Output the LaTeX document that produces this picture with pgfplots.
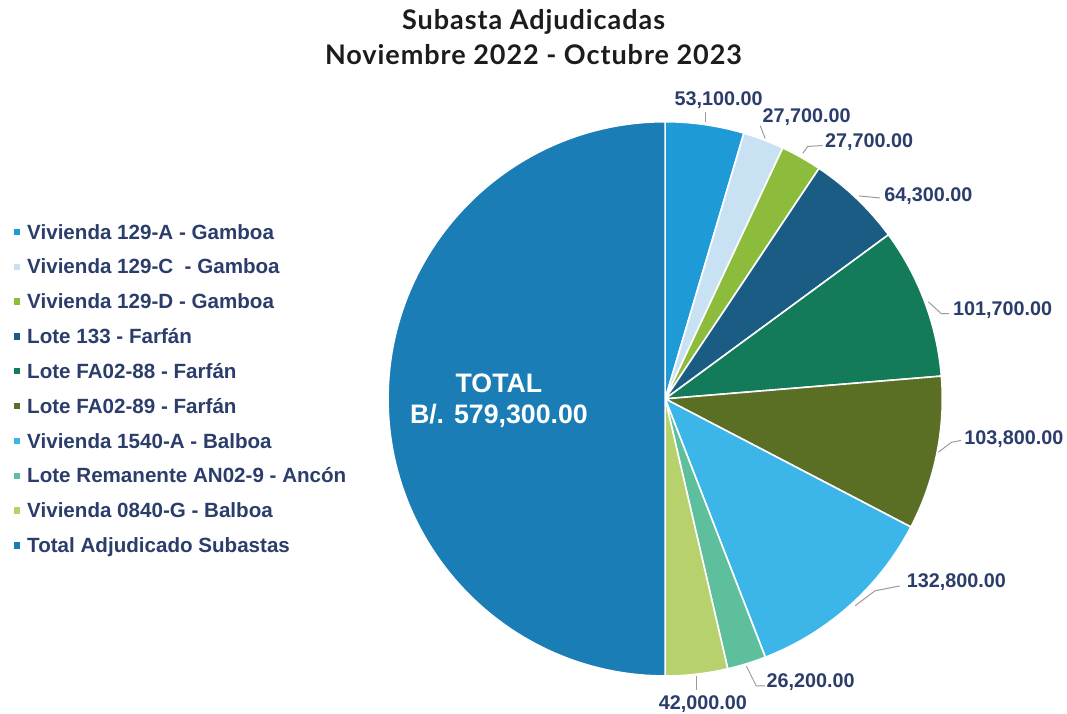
\documentclass[border=0pt]{standalone}
\usepackage{pgfplots}
\usepackage{pgfplotstable}
\pgfplotsset{compat=1.18}
\usepackage{fontspec}
\setmainfont{Liberation Sans}
\newfontfamily\arialfont{Liberation Sans}
\newfontfamily\titlefont{Lato}[LetterSpace=3.5]

\definecolor{slice0}{HTML}{1E9AD6}
\definecolor{slice1}{HTML}{C8E2F3}
\definecolor{slice2}{HTML}{8DBC3C}
\definecolor{slice3}{HTML}{1B5C84}
\definecolor{slice4}{HTML}{137B59}
\definecolor{slice5}{HTML}{5B6F24}
\definecolor{slice6}{HTML}{3CB6E9}
\definecolor{slice7}{HTML}{5EBF9D}
\definecolor{slice8}{HTML}{B7D16C}
\definecolor{slice9}{HTML}{1B7DB6}
\definecolor{labtext}{HTML}{2B3D6B}
\definecolor{leader}{HTML}{9A9A9A}
\definecolor{titletext}{HTML}{1C1C1C}

% Subastas adjudicadas (B/.)
\pgfplotstableread{
value
53100
27700
27700
64300
101700
103800
132800
26200
42000
579300
}\piedata

\begin{document}
\xdef\pietotal{0}
\pgfplotsforeachungrouped \i in {0,...,9}{%
  \pgfplotstablegetelem{\i}{value}\of\piedata
  \xdef\pietotal{\fpeval{\pietotal+\pgfplotsretval}}%
}
\xdef\cur{90}
\pgfplotsforeachungrouped \i in {0,...,9}{%
  \pgfplotstablegetelem{\i}{value}\of\piedata
  \xdef\nxt{\fpeval{round(\cur-\pgfplotsretval*360/\pietotal,4)}}%
  \expandafter\xdef\csname pieS\i\endcsname{\cur}%
  \expandafter\xdef\csname pieE\i\endcsname{\nxt}%
  \xdef\cur{\nxt}%
}
\begin{tikzpicture}
\begin{axis}[
  name=ax, at={(0,0)}, anchor=origin,
  x=1pt, y=1pt,
  xmin=0, xmax=1067, ymin=0, ymax=721,
  hide axis, clip=false,
  legend style={at={(axis cs:3,494.5)}, anchor=north west, draw=none, fill=none,
    inner sep=0pt, outer sep=0pt, column sep=7.5pt, row sep=20.2pt,
    font=\arialfont\bfseries\fontsize{20.8}{24}\selectfont, text=labtext,
    nodes={inner sep=0pt, text height=15pt, text depth=0pt},
    cells={anchor=west}},
]
\pgfplotsinvokeforeach{0,...,9}{%
  \edef\temp{\noexpand\fill[fill=slice#1, draw=white, line width=1.6pt, line join=round]
    (axis cs:661,318) -- ++(\csname pieS#1\endcsname:280pt)
    arc[start angle=\csname pieS#1\endcsname, end angle=\csname pieE#1\endcsname, radius=280pt] -- cycle;}%
  \temp
}
% legend
\addlegendimage{legend image code/.code={\fill[slice0] (0pt,-2.75pt) rectangle (5.5pt,2.75pt);}}
\addlegendentry{Vivienda 129-A - Gamboa}
\addlegendimage{legend image code/.code={\fill[slice1] (0pt,-2.75pt) rectangle (5.5pt,2.75pt);}}
\addlegendentry{Vivienda 129-C \ - Gamboa}
\addlegendimage{legend image code/.code={\fill[slice2] (0pt,-2.75pt) rectangle (5.5pt,2.75pt);}}
\addlegendentry{Vivienda 129-D - Gamboa}
\addlegendimage{legend image code/.code={\fill[slice3] (0pt,-2.75pt) rectangle (5.5pt,2.75pt);}}
\addlegendentry{Lote 133 - Farfán}
\addlegendimage{legend image code/.code={\fill[slice4] (0pt,-2.75pt) rectangle (5.5pt,2.75pt);}}
\addlegendentry{Lote FA02-88 - Farfán}
\addlegendimage{legend image code/.code={\fill[slice5] (0pt,-2.75pt) rectangle (5.5pt,2.75pt);}}
\addlegendentry{Lote FA02-89 - Farfán}
\addlegendimage{legend image code/.code={\fill[slice6] (0pt,-2.75pt) rectangle (5.5pt,2.75pt);}}
\addlegendentry{Vivienda 1540-A - Balboa}
\addlegendimage{legend image code/.code={\fill[slice7] (0pt,-2.75pt) rectangle (5.5pt,2.75pt);}}
\addlegendentry{Lote Remanente AN02-9 - Ancón}
\addlegendimage{legend image code/.code={\fill[slice8] (0pt,-2.75pt) rectangle (5.5pt,2.75pt);}}
\addlegendentry{Vivienda 0840-G - Balboa}
\addlegendimage{legend image code/.code={\fill[slice9] (0pt,-2.75pt) rectangle (5.5pt,2.75pt);}}
\addlegendentry{Total Adjudicado Subastas}

% title
\node[anchor=base, font=\titlefont\bfseries\fontsize{27.3}{30}\selectfont, text=titletext] at (axis cs:528,691) {Subasta Adjudicadas};
\node[anchor=base, font=\titlefont\bfseries\fontsize{27.3}{30}\selectfont, text=titletext] at (axis cs:528,656) {Noviembre 2022 - Octubre 2023};

% total label
\node[anchor=base, font=\arialfont\bfseries\fontsize{27}{30}\selectfont, text=white] at (axis cs:493,324) {TOTAL};
\node[anchor=base, font=\arialfont\bfseries\fontsize{27}{30}\selectfont, text=white] at (axis cs:493,293) {B/. 579,300.00};

% leader lines
\begin{scope}[leader, line width=1pt]
\draw (axis cs:702,598) -- (axis cs:702,608);
\draw (axis cs:762,581) -- (axis cs:757,594);
\draw (axis cs:800,566) -- (axis cs:805,573) -- (axis cs:820,574);
\draw (axis cs:857,523) -- (axis cs:878,521);
\draw (axis cs:927,416) -- (axis cs:940,404) -- (axis cs:948,404);
\draw (axis cs:937,264) -- (axis cs:950,274) -- (axis cs:960,276);
\draw (axis cs:853,109) -- (axis cs:873,124) -- (axis cs:898,129);
\draw (axis cs:743,48) -- (axis cs:753,28) -- (axis cs:762,28);
\draw (axis cs:693,38) -- (axis cs:693,24);
\end{scope}

% value labels
\begin{scope}[every node/.style={font=\arialfont\bfseries\fontsize{20}{24}\selectfont, text=labtext, inner sep=0pt}]
\node[anchor=base] at (axis cs:715,614) {53,100.00};
\node[anchor=base] at (axis cs:804,597) {27,700.00};
\node[anchor=base] at (axis cs:867,572) {27,700.00};
\node[anchor=base] at (axis cs:927,517) {64,300.00};
\node[anchor=base] at (axis cs:1002,402) {101,700.00};
\node[anchor=base west] at (axis cs:963,272) {103,800.00};
\node[anchor=base west] at (axis cs:905,127) {132,800.00};
\node[anchor=base] at (axis cs:808,26) {26,200.00};
\node[anchor=base] at (axis cs:699,4) {42,000.00};
\end{scope}
\end{axis}
\pgfresetboundingbox
\path (0,0) rectangle (1067pt,721pt);
\end{tikzpicture}
\end{document}
